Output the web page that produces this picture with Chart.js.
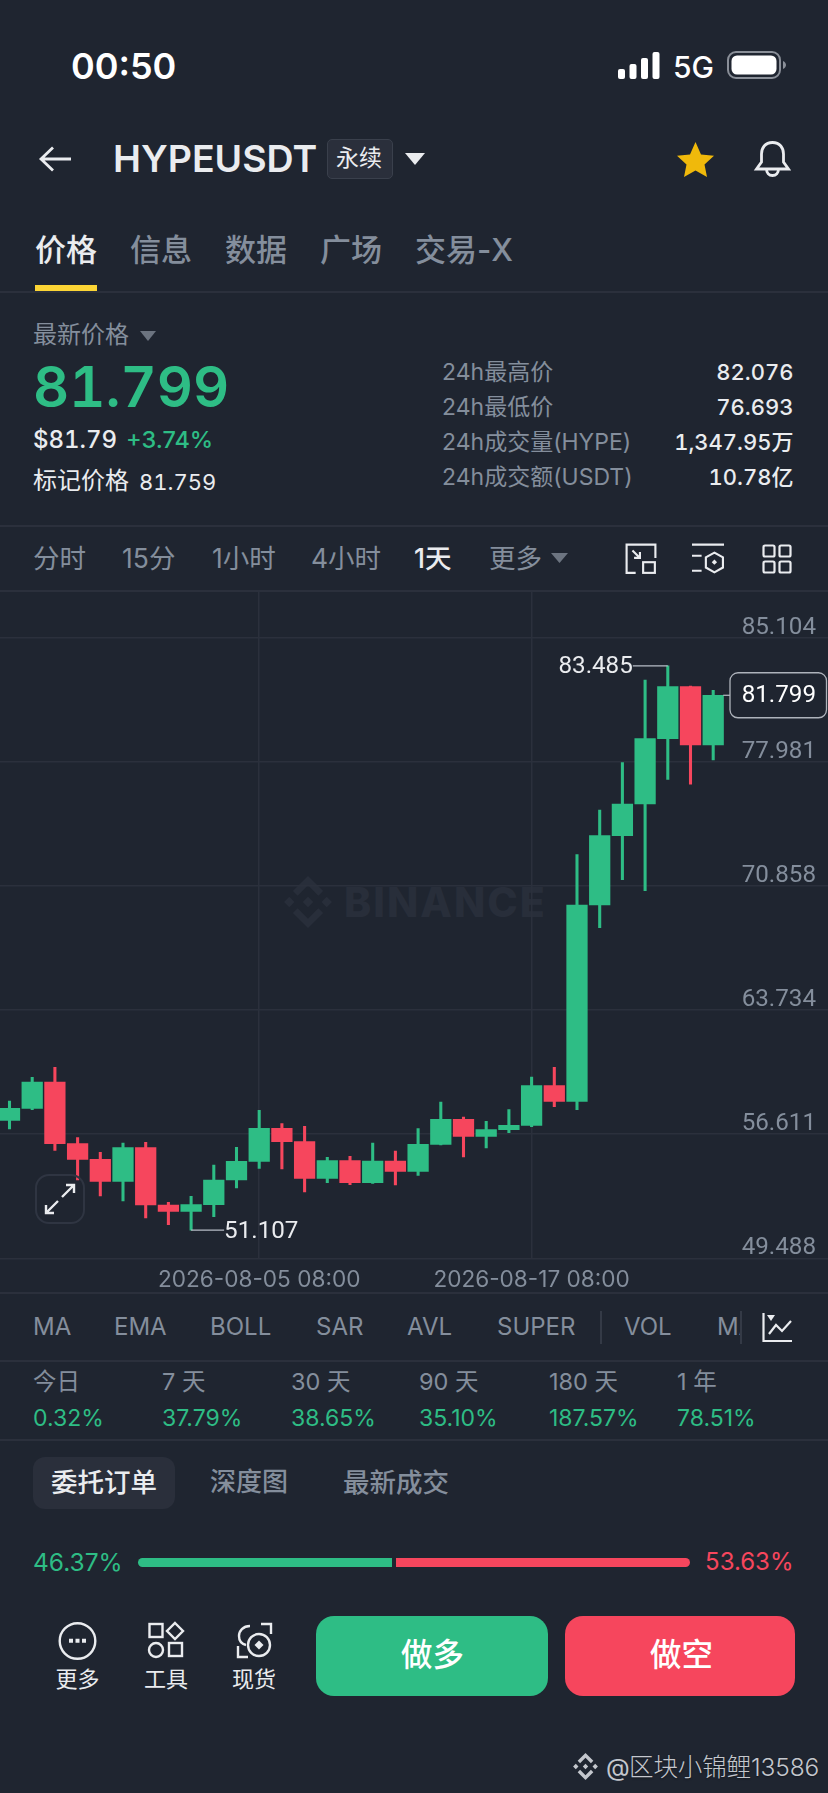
<!DOCTYPE html>
<html lang="zh-CN">
<head>
<meta charset="utf-8">
<title>HYPEUSDT</title>
<script src="https://cdn.jsdelivr.net/npm/chart.js@4/dist/chart.umd.min.js"></script>
<style>
html,body{margin:0;padding:0;background:#1f2530;}
#page{position:relative;width:828px;height:1793px;overflow:hidden;background:#1f2530;font-family:Inter,"Noto Sans CJK SC",sans-serif;}
#page span.t{position:absolute;white-space:nowrap;line-height:1;transform:translateY(-50%);}
.ln{position:absolute;left:0;width:828px;height:2px;background:#2b303c;}
svg{position:absolute;overflow:visible;}
#chartBox{position:absolute;left:0;top:591px;width:828px;height:702px;}
</style>
</head>
<body>
<div id="page">
<div class="ln" style="top:291px"></div>
<div class="ln" style="top:525px"></div>
<div class="ln" style="top:590px"></div>
<div class="ln" style="top:1292px"></div>
<div class="ln" style="top:1360px"></div>
<div class="ln" style="top:1439px"></div>
<div style="position:absolute;left:35px;top:285px;width:62px;height:6px;background:#fcd535"></div>

<!-- watermark -->
<svg style="left:282px;top:876px" width="52" height="52" viewBox="-50 -50 100 100" fill="#282e3a"><path d="M0-10 10 0 0 10-10 0zM-36-10-26 0-36 10-46 0zM36-10 46 0 36 10 26 0zM0-50 29-21 20-12 0-32-20-12-29-21zM0 50 29 21 20 12 0 32-20 12-29 21z"/></svg>
<span class="t" style="left:344px;top:902px;font-size:41px;font-weight:800;color:#282e3a;letter-spacing:2px">BINANCE</span>

<div id="chartBox"><canvas id="c" width="828" height="702"></canvas></div>

<!-- status bar -->
<svg style="left:618px;top:52px" width="42" height="27" fill="#fff"><rect x="0" y="17" width="7" height="10" rx="2"/><rect x="11.500" y="12" width="7" height="15" rx="2"/><rect x="23" y="6" width="7" height="21" rx="2"/><rect x="34.500" y="0" width="7" height="27" rx="2"/></svg>
<svg style="left:727px;top:51px" width="60" height="28"><rect x="1" y="1" width="52" height="26" rx="8" fill="none" stroke="#8a8f98" stroke-width="2"/><rect x="4.500" y="4.500" width="45" height="19" rx="5.500" fill="#fff"/><path d="M56 10c2 1 3 2.500 3 4s-1 3-3 4z" fill="#8a8f98"/></svg>

<!-- nav -->
<svg style="left:39px;top:146px" width="32" height="26" fill="none" stroke="#eaecef" stroke-width="2.800"><path d="M14 1.500 2 13 14 24.500M2.500 13H32"/></svg>
<div style="position:absolute;left:327px;top:139px;width:64px;height:38px;background:#2a2f3b;border:1px solid #3a404c;border-radius:5px"></div>
<svg style="left:405px;top:153px" width="20" height="12" fill="#eaecef"><path d="M0 0H20L10 12z"/></svg>
<svg style="left:677px;top:142px" width="37" height="35" viewBox="0 0 37 35" fill="#f0b90b"><path d="M18.500 0 24 12.500 37 13.800 27.500 22.500 30 35 18.500 28.500 7 35 9.500 22.500 0 13.800 13 12.500z"/></svg>
<svg style="left:755px;top:141px" width="35" height="36" viewBox="0 0 35 36" fill="none" stroke="#eaecef" stroke-width="2.800"><path d="M17.500 1.500C10 1.500 6.500 7 6.500 13V21L1.500 28H33.500L28.500 21V13C28.500 7 25 1.500 17.500 1.500Z M11.500 28C11.500 32 14 34.500 17.500 34.500S23.500 32 23.500 28"/></svg>

<!-- small triangles -->
<svg style="left:140px;top:331px" width="16" height="10" fill="#6c7480"><path d="M0 0H16L8 10z"/></svg>
<svg style="left:551px;top:553px" width="17" height="10" fill="#6c7480"><path d="M0 0H17L8.500 10z"/></svg>

<!-- toolbar icons -->
<svg style="left:625px;top:543px" width="32" height="32" viewBox="0 0 30 30" fill="none" stroke="#eaecef" stroke-width="2"><path d="M10 28H1.500V1.500H28.500V14M7 7 14 14M14 8.500V14H8.500"/><rect x="17" y="18" width="11" height="10"/></svg>
<svg style="left:692px;top:543px" width="32" height="32" viewBox="0 0 30 30" fill="none" stroke="#eaecef" stroke-width="2"><path d="M0 1.500H30M0 12H9M0 26H9"/><path d="M21 9 29 13.500V23L21 27.500 13 23V13.500Z"/><path d="M21 15.500 23.500 18 21 20.500 18.500 18z" fill="#eaecef" stroke="none"/></svg>
<svg style="left:762px;top:544px" width="30" height="30" fill="none" stroke="#eaecef" stroke-width="2.200"><rect x="1.500" y="1.500" width="11" height="11" rx="1.500"/><rect x="17.500" y="1.500" width="11" height="11" rx="1.500"/><rect x="1.500" y="17.500" width="11" height="11" rx="1.500"/><rect x="17.500" y="17.500" width="11" height="11" rx="1.500"/></svg>

<!-- expand -->
<svg style="left:35px;top:1174px;z-index:3" width="50" height="50" fill="none"><rect x="1" y="1" width="48" height="48" rx="13" stroke="#2f3542" stroke-width="2"/><path d="M11 39 23 27M11 31V39H19M39 11 27 23M31 11H39V19" stroke="#eaecef" stroke-width="2.400"/></svg>

<!-- indicator icon and separators -->
<div style="position:absolute;left:600px;top:1311px;width:1.500px;height:33px;background:#343a46"></div>
<div style="position:absolute;left:741px;top:1305px;width:87px;height:44px;background:#1f2530;z-index:1"></div>
<div style="position:absolute;left:740px;top:1311px;width:1.500px;height:33px;background:#343a46;z-index:2"></div>
<svg style="left:762px;top:1313px;z-index:2" width="30" height="30" fill="none" stroke="#eaecef" stroke-width="2.200"><path d="M1.500 0V28H30M7 21 14 12 20 18 29 8"/><path d="M5 2H13L9 8z" fill="#eaecef" stroke="none"/></svg>

<!-- order tab -->
<div style="position:absolute;left:33px;top:1457px;width:142px;height:52px;background:#2a2f3b;border-radius:12px"></div>

<!-- ratio bar -->
<div style="position:absolute;left:138px;top:1558px;width:254px;height:9px;background:#2ebd85;border-radius:5px 0 0 5px"></div>
<div style="position:absolute;left:396px;top:1558px;width:294px;height:9px;background:#f6465d;border-radius:0 5px 5px 0"></div>

<!-- buttons -->
<div style="position:absolute;left:316px;top:1616px;width:232px;height:80px;background:#2ebd85;border-radius:18px"></div>
<div style="position:absolute;left:565px;top:1616px;width:230px;height:80px;background:#f6465d;border-radius:18px"></div>

<!-- bottom icons -->
<svg style="left:58px;top:1622px" width="39" height="38" fill="none" stroke="#eaecef" stroke-width="2.400"><circle cx="19.500" cy="19" r="17.800"/><path d="M11 16.800h4v4h-4zM17.500 16.800h4v4h-4zM24 16.800h4v4h-4z" fill="#eaecef" stroke="none"/></svg>
<svg style="left:148px;top:1622px" width="36" height="37" fill="none" stroke="#eaecef" stroke-width="2.400"><rect x="1.500" y="2" width="13" height="13"/><path d="M27 1 35 9 27 17 19 9z"/><circle cx="8" cy="28" r="7"/><rect x="21" y="21" width="13" height="13"/></svg>
<svg style="left:236px;top:1622px" width="36" height="37" fill="none" stroke="#eaecef" stroke-width="2.400"><path d="M25 2H35V12M2 24V35H12"/><path d="M14 4C7 4 3 9 3 14S6 22 10 23"/><circle cx="23" cy="23" r="11"/><path d="M23 18.500 27.500 23 23 27.500 18.500 23z" fill="#eaecef" stroke="none"/></svg>

<!-- credit logo -->
<svg style="left:572px;top:1753px" width="27" height="27" viewBox="-50 -50 100 100" fill="#c4c7cd"><path d="M0-10 10 0 0 10-10 0zM-36-10-26 0-36 10-46 0zM36-10 46 0 36 10 26 0zM0-50 29-21 20-12 0-32-20-12-29-21zM0 50 29 21 20 12 0 32-20 12-29 21z"/></svg>
</div>

<script>
// ---- chart data ----
const dates = [
 "2026-07-25 08:00","2026-07-26 08:00","2026-07-27 08:00","2026-07-28 08:00","2026-07-29 08:00","2026-07-30 08:00",
 "2026-07-31 08:00","2026-08-01 08:00","2026-08-02 08:00","2026-08-03 08:00","2026-08-04 08:00","2026-08-05 08:00",
 "2026-08-06 08:00","2026-08-07 08:00","2026-08-08 08:00","2026-08-09 08:00","2026-08-10 08:00","2026-08-11 08:00",
 "2026-08-12 08:00","2026-08-13 08:00","2026-08-14 08:00","2026-08-15 08:00","2026-08-16 08:00","2026-08-17 08:00",
 "2026-08-18 08:00","2026-08-19 08:00","2026-08-20 08:00","2026-08-21 08:00","2026-08-22 08:00","2026-08-23 08:00",
 "2026-08-24 08:00","2026-08-25 08:00"];
const opens = [57.406,58.094,59.606,56.067,55.168,53.905,55.837,52.547,52.183,52.566,53.982,55.053,56.947,56.181,54.077,55.091,
 53.829,55.072,54.479,56.028,57.463,56.487,56.870,57.118,59.395,58.496,69.763,73.740,75.560,79.307,82.291,78.945];
const closes = [58.094,59.606,56.067,55.168,53.905,55.837,52.547,52.183,52.566,53.982,55.053,56.947,56.181,54.077,55.091,53.829,
 55.072,54.479,56.028,57.463,56.487,56.870,57.118,59.395,58.496,69.763,73.740,75.560,79.307,82.291,78.945,81.799];
const highs = [58.515,59.874,60.447,56.411,55.569,56.105,56.143,52.700,53.044,54.842,55.856,57.980,57.214,57.061,55.282,55.340,
 56.105,55.646,56.927,58.457,57.597,57.348,58.018,59.892,60.447,72.650,75.214,77.930,82.676,83.485,82.330,82.076];
const lows = [56.908,58.018,55.684,53.982,53.063,52.776,51.801,51.418,51.107,51.877,53.522,54.651,54.613,53.293,53.829,53.714,
 53.790,53.695,54.249,55.990,55.301,55.818,56.698,57.042,58.190,58.018,68.461,71.215,70.584,76.977,76.693,78.084];
const priceTicks = [85.104,77.981,70.858,63.734,56.611,49.488];
const dateTickIndexes = [11,23];
const lastPrice = 81.799;

// ---- page text ----
const GREEN="#2ebd85",RED="#f6465d",GREY="#848e9c",WHITE="#eaecef";
const FONT='Inter,"Noto Sans CJK SC",sans-serif';
const PRICEFONT='Roboto,Inter,sans-serif';
const TNUM='font-feature-settings:"tnum";';
const navTabs=["信息","数据","广场","交易-X"], navTabX=[130,225,320,415];
const intervals=["分时","15分","1小时","4小时"], intervalX=[33,122,212,311];
const statLabels=["24h最高价","24h最低价","24h成交量(HYPE)","24h成交额(USDT)"];
const statValues=["82.076","76.693","1,347.95万","10.78亿"], statY=[372,407,442,477];
const indicators=["MA","EMA","BOLL","SAR","AVL","SUPER","VOL"], indicatorX=[33,114,210,316,407,497,624];
const periods=["今日","7 天","30 天","90 天","180 天","1 年"];
const periodChanges=["0.32%","37.79%","38.65%","35.10%","187.57%","78.51%"], periodX=[33,162,291,419,549,677];
const page=document.getElementById("page");
function t(s,x,y,size,color,weight,right,extra){
  const e=document.createElement("span");e.className="t";e.textContent=s;
  e.style.cssText=(right?`right:${828-x}px;`:`left:${x}px;`)+`top:${y}px;font-size:${size}px;color:${color};font-weight:${weight||400};`+(extra||"");
  page.appendChild(e);return e;
}
t("00:50",71,65.5,36,"#fff",600);
t("5G",673,66.5,30,"#fff",500);
t("HYPEUSDT",113,159,37.5,WHITE,600);
t("永续",336,158,23,WHITE,400);
t("价格",35,248.5,31,WHITE,500);
navTabs.forEach((s,i)=>t(s,navTabX[i],248.5,31,GREY,500));
t("最新价格",33,335,24,GREY);
t(String(lastPrice),33,387,56,GREEN,600,false,TNUM);
t("$81.79",33,440,24,WHITE,500,false,TNUM);
t("+3.74%",126,440,23.500,GREEN,500);
t("标记价格",33,481,24,WHITE);
t("81.759",139,481.500,22,WHITE,400,false,TNUM);
statLabels.forEach((s,i)=>t(s,442,statY[i],23,GREY));
statValues.forEach((s,i)=>t(s,793.500,statY[i],22,WHITE,500,true,TNUM));
intervals.forEach((s,i)=>t(s,intervalX[i],558,26.500,GREY));
t("1天",414,558,26.500,WHITE,500);
t("更多",489,558,26.500,GREY);
indicators.forEach((s,i)=>t(s,indicatorX[i],1327,24,GREY));
t("MA",717,1327,24,GREY);
periods.forEach((s,i)=>t(s,periodX[i],1382,23.500,GREY));
periodChanges.forEach((s,i)=>t(s,periodX[i],1418,23,GREEN));
t("委托订单",51,1482,26.500,WHITE,500);
t("深度图",210,1482,26,GREY,500);
t("最新成交",343,1482,26.500,GREY,500);
t("46.37%",33,1562,24.500,GREEN);
t("53.63%",793.500,1562,24,RED,400,true);
t("做多",401,1655,31.500,"#fff",500);
t("做空",650,1655,31.500,"#fff",500);
t("更多",55.500,1679,22,WHITE);
t("工具",144,1679,22,WHITE);
t("现货",232,1679,22,WHITE);
t("@",606,1767,24.500,"#c4c7cd");
t("区块小锦鲤13586",629,1767,24.500,"#c4c7cd",300,false,"letter-spacing:-.1px;text-shadow:0 1px 2px #0006;");

// ---- chart ----
const idx=dates.map((_,i)=>i);
const colors=idx.map(i=>closes[i]>=opens[i]?GREEN:RED);
const SLOT=22.7, FIRST=9.5, W=828;

const annotate={
  id:"annotate",
  afterDatasetsDraw(chart){
    const {ctx,scales:{x,y}}=chart;
    const hi=highs.indexOf(Math.max(...highs)), lo=lows.indexOf(Math.min(...lows));
    ctx.save();
    ctx.font=`400 24.2px ${PRICEFONT}`;ctx.textBaseline="middle";
    ctx.strokeStyle="#b7bdc6";ctx.lineWidth=1.2;
    // highest high
    let px=x.getPixelForValue(hi),py=y.getPixelForValue(highs[hi]);
    ctx.beginPath();ctx.moveTo(px,py);ctx.lineTo(px-35,py);ctx.stroke();
    ctx.fillStyle=WHITE;ctx.textAlign="right";
    ctx.fillText(highs[hi].toFixed(3),px-35,py+1);
    // lowest low
    px=x.getPixelForValue(lo);py=y.getPixelForValue(lows[lo]);
    ctx.beginPath();ctx.moveTo(px,py);ctx.lineTo(px+33,py);ctx.stroke();
    ctx.textAlign="left";
    ctx.fillText(lows[lo].toFixed(3),px+33,py+2);
    // last price box
    const n=closes.length-1;
    px=x.getPixelForValue(n);py=y.getPixelForValue(lastPrice);
    ctx.beginPath();ctx.moveTo(px+10,py);ctx.lineTo(730,py);ctx.stroke();
    ctx.beginPath();ctx.roundRect(730,py-22.500,96.500,45,8);
    ctx.fillStyle="#1f2530";ctx.fill();ctx.strokeStyle="#aeb3bb";ctx.lineWidth=1.3;ctx.stroke();
    ctx.fillStyle="#fff";ctx.textAlign="right";
    ctx.fillText(lastPrice.toFixed(3),816,py+1);
    ctx.restore();
  }
};

new Chart(document.getElementById("c"),{
  type:"bar",
  data:{datasets:[
    {label:"body",data:idx.map(i=>({x:i,y:[opens[i],closes[i]]})),backgroundColor:colors,barThickness:20.6,grouped:false,order:1},
    {label:"wick",data:idx.map(i=>({x:i,y:[lows[i],highs[i]]})),backgroundColor:colors,barThickness:2.4,grouped:false,order:2}
  ]},
  plugins:[annotate],
  options:{
    responsive:false,animation:false,devicePixelRatio:1,
    layout:{padding:0},
    plugins:{legend:{display:false},tooltip:{enabled:false}},
    scales:{
      x:{type:"linear",offset:false,min:-FIRST/SLOT,max:(W-FIRST)/SLOT,
        afterBuildTicks(s){s.ticks=dateTickIndexes.map(v=>({value:v}));},
        afterFit(s){s.height=34.7;s.paddingLeft=0;s.paddingRight=0;},
        ticks:{callback:v=>dates[v],autoSkip:false,maxRotation:0,color:GREY,padding:8,font:{family:FONT,size:22.6}},
        grid:{color:"#2b303c",lineWidth:1.5,drawTicks:false,offset:false},border:{display:false}},
      y:{type:"linear",position:"right",min:49.488,max:87.783,
        afterBuildTicks(s){s.ticks=priceTicks.map(v=>({value:v}));},
        afterFit(s){s.width=0;s.paddingTop=0;s.paddingBottom=0;},
        ticks:{callback:v=>v.toFixed(3),mirror:true,padding:-12,labelOffset:-10,color:GREY,z:1,font:{family:PRICEFONT,size:24.2}},
        grid:{color:"#2b303c",lineWidth:1.5,drawTicks:false},border:{display:false}}
    }
  }
});
</script>
</body>
</html>
